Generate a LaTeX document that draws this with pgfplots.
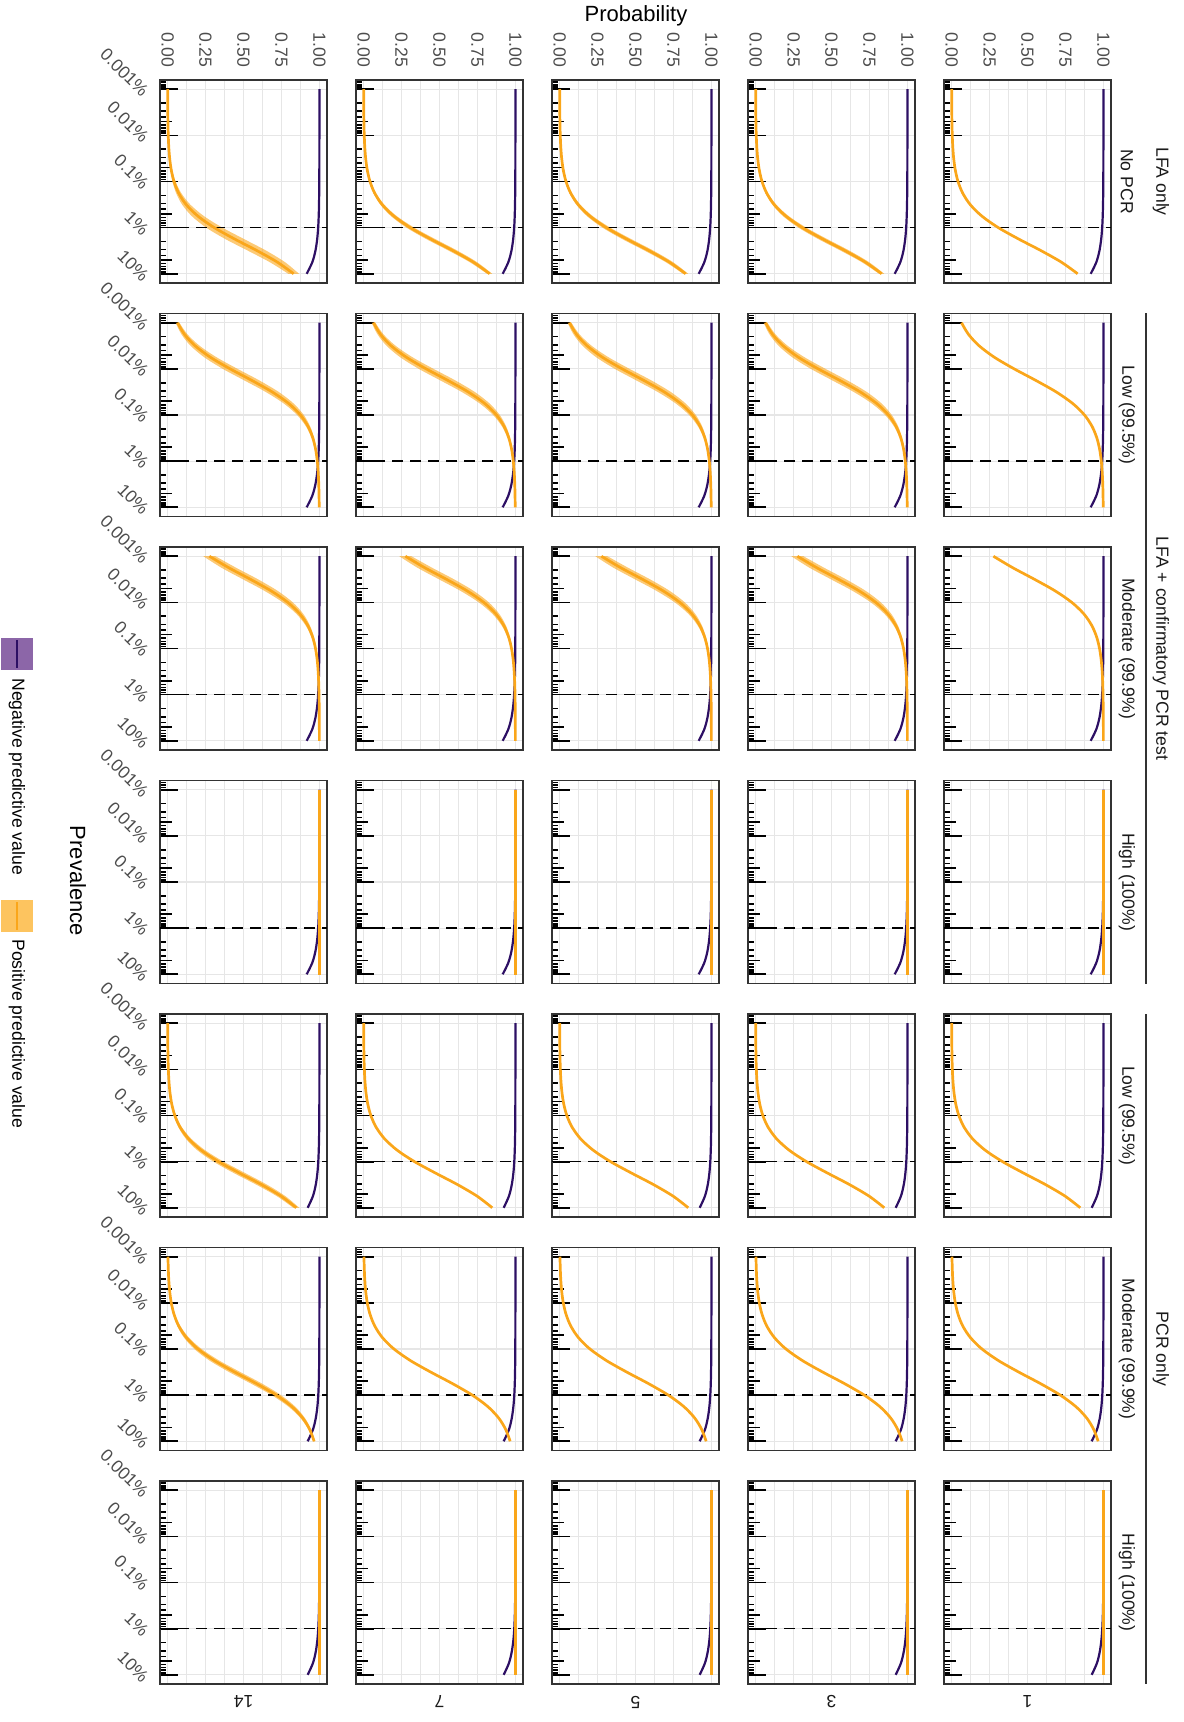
\documentclass[border=0pt]{standalone}
\usepackage{fontspec}
\setmainfont{Liberation Sans}
\usepackage{pgfplots}
\pgfplotsset{compat=1.18}
\usepackage{pgfplotstable}
\usepgfplotslibrary{fillbetween}
\definecolor{npvc}{RGB}{45,15,100}
\definecolor{ppvc}{RGB}{250,166,26}
\definecolor{npvkey}{RGB}{140,102,168}
\definecolor{ppvkey}{RGB}{253,196,95}
\definecolor{gridc}{RGB}{230,230,230}
\definecolor{borderc}{RGB}{51,51,51}
\definecolor{tickc}{RGB}{77,77,77}
\definecolor{stripc}{RGB}{26,26,26}
\newcommand\tsz{\fontsize{8.8pt}{10pt}\selectfont}
\newcommand\asz{\fontsize{11pt}{13pt}\selectfont}

% LFA only: p, NPV, PPV, ribbon (narrow) lo1/hi1, ribbon (wide) lo2/hi2
\pgfplotstableread{
p npv ppv lo1 hi1 lo2 hi2
1e-5 0.99999 0.00044 0.00039 0.00049 0.00033 0.00055
1.7783e-5 0.99999 0.00078 0.00069 0.00087 0.00058 0.00098
3.1623e-5 0.99997 0.00139 0.00122 0.00156 0.00104 0.00174
5.6234e-5 0.99995 0.00247 0.00217 0.00277 0.00185 0.00309
1e-4 0.99992 0.00438 0.00386 0.00490 0.00329 0.00547
1.7783e-4 0.99985 0.00777 0.00684 0.00870 0.00584 0.00970
3.1623e-4 0.99974 0.01373 0.01211 0.01535 0.01034 0.01712
5.6234e-4 0.99954 0.02416 0.02133 0.02699 0.01826 0.03006
1e-3 0.99918 0.04218 0.03733 0.04703 0.03208 0.05228
1.7783e-3 0.99854 0.07269 0.06460 0.08078 0.05584 0.08954
3.1623e-3 0.99740 0.12249 0.10959 0.13539 0.09562 0.14936
5.6234e-3 0.99537 0.19925 0.18010 0.21840 0.15936 0.23914
1e-2 0.99176 0.30769 0.28213 0.33325 0.25443 0.36095
1.7783e-2 0.98532 0.44340 0.41378 0.47302 0.38170 0.50510
3.1623e-2 0.97383 0.58963 0.56059 0.61867 0.52914 0.65012
5.6234e-2 0.95326 0.72389 0.69990 0.74788 0.67392 0.77386
1e-1 0.91622 0.83019 0.81327 0.84711 0.79495 0.86543
}\tLFA

% LFA + confirmatory PCR, low (99.5%)
\pgfplotstableread{
p npv ppv lo hi
1e-5 0.99999 0.06542 0.05319 0.07765
1.7783e-5 0.99999 0.11070 0.09101 0.13039
3.1623e-5 0.99997 0.18124 0.15156 0.21092
5.6234e-5 0.99995 0.28245 0.24192 0.32298
1e-4 0.99992 0.41201 0.36356 0.46046
1.7783e-4 0.99985 0.55457 0.50517 0.60397
3.1623e-4 0.99974 0.68888 0.64601 0.73175
5.6234e-4 0.99954 0.79751 0.76521 0.82981
1e-3 0.99918 0.87511 0.85325 0.89697
1.7783e-3 0.99854 0.92576 0.91202 0.93950
3.1623e-3 0.99740 0.95691 0.94866 0.96516
5.6234e-3 0.99537 0.97536 0.97055 0.98017
1e-2 0.99176 0.98605 0.98330 0.98880
1.7783e-2 0.98532 0.99217 0.99062 0.99372
3.1623e-2 0.97383 0.99565 0.99478 0.99652
5.6234e-2 0.95326 0.99761 0.99713 0.99809
1e-1 0.91622 0.99872 0.99846 0.99898
}\tLPL

% LFA + confirmatory PCR, moderate (99.9%)
\pgfplotstableread{
p npv ppv lo hi
1e-5 0.99999 0.27536 0.23545 0.31527
1.7783e-5 0.99999 0.40325 0.35512 0.45138
3.1623e-5 0.99997 0.54580 0.49622 0.59538
5.6234e-5 0.99995 0.68121 0.63778 0.72464
1e-4 0.99992 0.79169 0.75871 0.82467
1.7783e-4 0.99985 0.87111 0.84865 0.89357
3.1623e-4 0.99974 0.92320 0.90902 0.93738
5.6234e-4 0.99954 0.95531 0.94677 0.96385
1e-3 0.99918 0.97438 0.96939 0.97937
1.7783e-3 0.99854 0.98545 0.98258 0.98832
3.1623e-3 0.99740 0.99177 0.99014 0.99340
5.6234e-3 0.99537 0.99537 0.99445 0.99629
1e-2 0.99176 0.99740 0.99688 0.99792
1.7783e-2 0.98532 0.99855 0.99826 0.99884
3.1623e-2 0.97383 0.99919 0.99903 0.99935
5.6234e-2 0.95326 0.99956 0.99947 0.99965
1e-1 0.91622 0.99976 0.99971 0.99981
}\tLPM

% PCR only, low (99.5%)
\pgfplotstableread{
p npv ppv lo hi
1e-5 0.99999 0.00050 0.00042 0.00058
1.7783e-5 0.99999 0.00089 0.00076 0.00102
3.1623e-5 0.99998 0.00158 0.00134 0.00182
5.6234e-5 0.99996 0.00280 0.00238 0.00322
1e-4 0.99992 0.00498 0.00424 0.00572
1.7783e-4 0.99987 0.00882 0.00751 0.01013
3.1623e-4 0.99976 0.01557 0.01327 0.01787
5.6234e-4 0.99958 0.02736 0.02337 0.03135
1e-3 0.99925 0.04766 0.04085 0.05447
1.7783e-3 0.99866 0.08179 0.07052 0.09306
3.1623e-3 0.99762 0.13690 0.11918 0.15462
5.6234e-3 0.99576 0.22048 0.19470 0.24626
1e-2 0.99245 0.33557 0.30213 0.36901
1.7783e-2 0.98655 0.47514 0.43773 0.51255
3.1623e-2 0.97600 0.62017 0.58484 0.65550
5.6234e-2 0.95706 0.74870 0.72048 0.77692
1e-1 0.92279 0.84746 0.82807 0.86685
}\tPL

% PCR only, moderate (99.9%)
\pgfplotstableread{
p npv ppv lo hi
1e-5 0.99999 0.00249 0.00212 0.00286
1.7783e-5 0.99999 0.00443 0.00377 0.00509
3.1623e-5 0.99998 0.00784 0.00667 0.00901
5.6234e-5 0.99996 0.01386 0.01181 0.01591
1e-4 0.99992 0.02439 0.02082 0.02796
1.7783e-4 0.99987 0.04257 0.03646 0.04868
3.1623e-4 0.99976 0.07329 0.06310 0.08348
5.6234e-4 0.99958 0.12332 0.10710 0.13954
1e-3 0.99925 0.20016 0.17614 0.22418
1.7783e-3 0.99866 0.30814 0.27616 0.34012
3.1623e-3 0.99762 0.44229 0.40529 0.47929
5.6234e-3 0.99576 0.58573 0.54933 0.62213
1e-2 0.99245 0.71633 0.68585 0.74681
1.7783e-2 0.98655 0.81904 0.79681 0.84127
3.1623e-2 0.97600 0.89088 0.87630 0.90546
5.6234e-2 0.95706 0.93709 0.92825 0.94593
1e-1 0.92279 0.96525 0.96022 0.97028
}\tPM

\pgfplotsset{
  every axis/.append style={
    scale only axis, width=83.5pt, height=101.5pt, anchor=north west,
    xmin=-0.05, xmax=1.05,
    ymin=6.3096e-6, ymax=0.15849, y dir=reverse,
    enlargelimits=false,
    xtick={0,0.25,0.5,0.75,1}, minor xtick={0.125,0.375,0.625,0.875},
    xticklabels={},
    ytick={1e-5,1e-4,1e-3,1e-2,1e-1}, yticklabels={},
    minor ytick={7e-6,8e-6,9e-6,2e-5,3e-5,4e-5,6e-5,7e-5,8e-5,9e-5,2e-4,3e-4,4e-4,6e-4,7e-4,8e-4,9e-4,2e-3,3e-3,4e-3,6e-3,7e-3,8e-3,9e-3,2e-2,3e-2,4e-2,6e-2,7e-2,8e-2,9e-2},
    extra y ticks={5e-5,5e-4,5e-3,5e-2}, extra y tick labels={},
    extra y tick style={major tick length=6pt, grid=none},
    xmajorgrids, xminorgrids, ymajorgrids,
    major grid style={draw=gridc, line width=0.6pt},
    minor grid style={draw=gridc, line width=0.5pt},
    ytick pos=left, tick align=inside,
    major tick length=9pt, minor tick length=3pt,
    xtick style={draw=none}, minor x tick style={draw=none},
    ytick style={black, line width=0.85pt},
    minor y tick style={black, line width=0.85pt},
    axis line style={draw=borderc, line width=0.7pt},
  },
  every axis plot/.append style={mark=none},
  myTop/.style={
    xticklabel pos=upper,
    xticklabels={0.00,0.25,0.50,0.75,1.00},
    xticklabel style={rotate=-90, anchor=east, font=\tsz, text=tickc},
    xticklabel shift=3pt,
  },
  myLeft/.style={
    yticklabels={0.001\%,0.01\%,0.1\%,1\%,10\%},
    yticklabel style={rotate=-45, anchor=north east, font=\tsz, text=tickc},
  },
  npvl/.style={color=npvc, line width=1.1pt, smooth},
  ppvl/.style={color=ppvc, line width=1.35pt, smooth},
  ribfill/.style={fill=ppvc, fill opacity=0.6, draw=none},
  dashl/.style={black, line width=0.8pt, dash pattern=on 5.5pt off 3.5pt},
}

\newcommand{\PP}[4]{\begin{semilogyaxis}[at={(#1,#2)},#3]#4\end{semilogyaxis}}
\newcommand{\dashl}{\addplot[dashl] coordinates {(-0.05,0.01) (1.05,0.01)};}
\newcommand{\rib}[3]{%
  \addplot[name path=rl, draw=none, smooth] table[x=#2,y=p]{#1};
  \addplot[name path=rh, draw=none, smooth] table[x=#3,y=p]{#1};
  \addplot[ribfill] fill between[of=rl and rh];}
\newcommand{\cur}[1]{%
  \addplot[npvl] table[x=npv,y=p]{#1};
  \addplot[ppvl] table[x=ppv,y=p]{#1};}
\newcommand{\hcur}[1]{%
  \addplot[npvl] table[x=npv,y=p]{#1};
  \addplot[ppvl] coordinates {(1,1e-5) (1,0.1)};}

\begin{document}
\begin{tikzpicture}

% ---- row: LFA only / No PCR
\PP{80pt}{-40pt}{myTop,myLeft}{\dashl\rib{\tLFA}{lo2}{hi2}\cur{\tLFA}}
\PP{178pt}{-40pt}{myTop}{\dashl\rib{\tLFA}{lo1}{hi1}\cur{\tLFA}}
\PP{276pt}{-40pt}{myTop}{\dashl\rib{\tLFA}{lo1}{hi1}\cur{\tLFA}}
\PP{374pt}{-40pt}{myTop}{\dashl\rib{\tLFA}{lo1}{hi1}\cur{\tLFA}}
\PP{472pt}{-40pt}{myTop}{\dashl\cur{\tLFA}}

% ---- row: LFA + PCR, Low
\PP{80pt}{-156.75pt}{myLeft}{\dashl\rib{\tLPL}{lo}{hi}\cur{\tLPL}}
\PP{178pt}{-156.75pt}{}{\dashl\rib{\tLPL}{lo}{hi}\cur{\tLPL}}
\PP{276pt}{-156.75pt}{}{\dashl\rib{\tLPL}{lo}{hi}\cur{\tLPL}}
\PP{374pt}{-156.75pt}{}{\dashl\rib{\tLPL}{lo}{hi}\cur{\tLPL}}
\PP{472pt}{-156.75pt}{}{\dashl\cur{\tLPL}}

% ---- row: LFA + PCR, Moderate
\PP{80pt}{-273.5pt}{myLeft}{\dashl\rib{\tLPM}{lo}{hi}\cur{\tLPM}}
\PP{178pt}{-273.5pt}{}{\dashl\rib{\tLPM}{lo}{hi}\cur{\tLPM}}
\PP{276pt}{-273.5pt}{}{\dashl\rib{\tLPM}{lo}{hi}\cur{\tLPM}}
\PP{374pt}{-273.5pt}{}{\dashl\rib{\tLPM}{lo}{hi}\cur{\tLPM}}
\PP{472pt}{-273.5pt}{}{\dashl\cur{\tLPM}}

% ---- row: LFA + PCR, High
\PP{80pt}{-390.25pt}{myLeft}{\dashl\hcur{\tLFA}}
\PP{178pt}{-390.25pt}{}{\dashl\hcur{\tLFA}}
\PP{276pt}{-390.25pt}{}{\dashl\hcur{\tLFA}}
\PP{374pt}{-390.25pt}{}{\dashl\hcur{\tLFA}}
\PP{472pt}{-390.25pt}{}{\dashl\hcur{\tLFA}}

% ---- row: PCR only, Low
\PP{80pt}{-507pt}{myLeft}{\dashl\rib{\tPL}{lo}{hi}\cur{\tPL}}
\PP{178pt}{-507pt}{}{\dashl\cur{\tPL}}
\PP{276pt}{-507pt}{}{\dashl\cur{\tPL}}
\PP{374pt}{-507pt}{}{\dashl\cur{\tPL}}
\PP{472pt}{-507pt}{}{\dashl\cur{\tPL}}

% ---- row: PCR only, Moderate
\PP{80pt}{-623.75pt}{myLeft}{\dashl\rib{\tPM}{lo}{hi}\cur{\tPM}}
\PP{178pt}{-623.75pt}{}{\dashl\cur{\tPM}}
\PP{276pt}{-623.75pt}{}{\dashl\cur{\tPM}}
\PP{374pt}{-623.75pt}{}{\dashl\cur{\tPM}}
\PP{472pt}{-623.75pt}{}{\dashl\cur{\tPM}}

% ---- row: PCR only, High
\PP{80pt}{-740.5pt}{myLeft}{\dashl\hcur{\tPL}}
\PP{178pt}{-740.5pt}{}{\dashl\hcur{\tPL}}
\PP{276pt}{-740.5pt}{}{\dashl\hcur{\tPL}}
\PP{374pt}{-740.5pt}{}{\dashl\hcur{\tPL}}
\PP{472pt}{-740.5pt}{}{\dashl\hcur{\tPL}}

% ---- titles
\node[font=\asz] at (318pt,-7.7pt) {Probability};
\node[font=\asz, rotate=-90] at (39pt,-440.5pt) {Prevalence};

% ---- strips (right)
\begin{scope}[every node/.style={font=\tsz, text=stripc, rotate=-90}]
\node at (563.5pt,-90.75pt) {No PCR};
\node at (580.5pt,-90.75pt) {LFA only};
\node at (563.5pt,-207.5pt) {Low (99.5\%)};
\node at (563.5pt,-324.25pt) {Moderate (99.9\%)};
\node at (563.5pt,-441pt) {High (100\%)};
\node at (563.5pt,-557.75pt) {Low (99.5\%)};
\node at (563.5pt,-674.5pt) {Moderate (99.9\%)};
\node at (563.5pt,-791.25pt) {High (100\%)};
\node at (580.5pt,-324.25pt) {LFA + confirmatory PCR test};
\node at (580.5pt,-674.5pt) {PCR only};
\end{scope}
\draw[borderc, line width=0.7pt] (573pt,-156.75pt) -- (573pt,-491.75pt);
\draw[borderc, line width=0.7pt] (573pt,-507pt) -- (573pt,-842pt);

% ---- strips (bottom)
\begin{scope}[every node/.style={font=\tsz, text=stripc, rotate=180}]
\node at (121.75pt,-851pt) {14};
\node at (219.75pt,-851pt) {7};
\node at (317.75pt,-851pt) {5};
\node at (415.75pt,-851pt) {3};
\node at (513.75pt,-851pt) {1};
\end{scope}

% ---- legend
\fill[npvkey] (0.5pt,-319pt) rectangle (16.5pt,-335pt);
\draw[npvc, line width=1.1pt] (8.5pt,-320pt) -- (8.5pt,-334pt);
\fill[ppvkey] (0.5pt,-450pt) rectangle (16.5pt,-466pt);
\draw[ppvc, line width=1.1pt] (8.5pt,-451pt) -- (8.5pt,-465pt);
\node[font=\tsz, rotate=-90, anchor=west, inner sep=0pt] at (8.5pt,-339pt) {Negative predictive value};
\node[font=\tsz, rotate=-90, anchor=west, inner sep=0pt] at (8.5pt,-469.5pt) {Positive predictive value};

\pgfresetboundingbox
\useasboundingbox (0,0) rectangle (591.5pt,-861pt);
\end{tikzpicture}
\end{document}
